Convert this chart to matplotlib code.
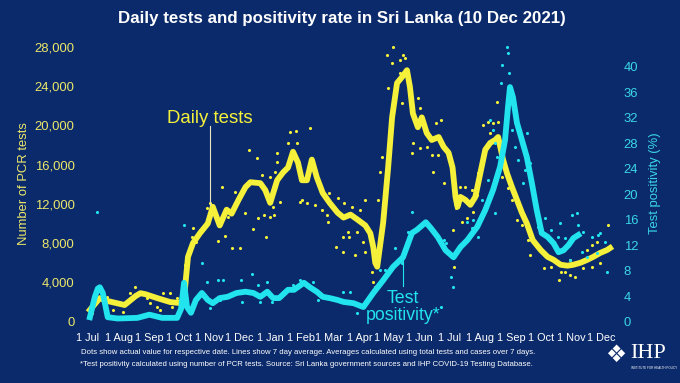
import pandas as pd
import matplotlib
matplotlib.use('Agg')
import matplotlib.pyplot as plt

plt.rcParams['font.family'] = ['Liberation Sans', 'DejaVu Sans']

# x values are days since 1 Jul 2020
start = pd.Timestamp('2020-07-01')

# 7 day average of daily PCR tests
test_avg = [(2, 1200), (12, 2400), (20, 2100), (37, 1700), (48, 2600), (53, 2900), (58, 2800),
            (70, 2400), (83, 2000), (93, 1900), (97, 2300), (99, 4500), (101, 6600), (106, 8000),
            (113, 9000), (121, 10000), (126, 11700), (133, 9800), (140, 11400), (145, 11000),
            (152, 12400), (159, 13700), (164, 14200), (174, 14100), (179, 13400), (184, 12100),
            (191, 14400), (197, 15200), (202, 15700), (207, 17300), (212, 16200), (216, 14400),
            (221, 14400), (226, 16500), (231, 14700), (237, 13100), (244, 12100), (252, 11100),
            (258, 10600), (265, 10900), (272, 10400), (280, 9800), (285, 9000), (288, 7600),
            (290, 6000), (292, 5600), (298, 10100), (303, 15700), (307, 20800), (312, 24300),
            (317, 24900), (322, 25600), (325, 23900), (328, 21200), (333, 19800), (337, 20800),
            (342, 19200), (347, 18500), (354, 18800), (359, 17800), (364, 17200), (368, 15700),
            (371, 12700), (373, 11700), (376, 12700), (381, 12400), (386, 11900), (391, 12700),
            (396, 15100), (401, 17500), (406, 18200), (411, 18500), (414, 18800), (419, 16500),
            (423, 15100), (428, 13700), (433, 12400), (438, 11100), (443, 10000), (449, 8300),
            (457, 7300), (464, 6600), (470, 6300), (477, 5800), (484, 5700), (490, 5800),
            (497, 6000), (504, 6300), (510, 6600), (517, 7000), (524, 7300), (527, 7500)]

# 7 day average of test positivity (%)
pos_avg = [(2, 0.7), (7, 3.9), (10, 5.2), (12, 5.4), (15, 4.5), (17, 3.0), (20, 0.7), (30, 0.5),
           (50, 0.6), (62, 1.1), (75, 0.6), (90, 0.6), (94, 2.0), (97, 6.1), (100, 2.3),
           (104, 1.4), (109, 3.4), (115, 4.5), (121, 3.4), (126, 2.9), (133, 3.7), (141, 3.9),
           (150, 4.5), (159, 4.7), (167, 4.5), (174, 3.9), (181, 4.7), (187, 3.7), (193, 3.7),
           (202, 5.0), (208, 5.0), (218, 6.1), (224, 5.4), (231, 4.7), (237, 3.9), (244, 3.7),
           (252, 3.4), (258, 3.1), (268, 2.9), (273, 2.6), (278, 2.3), (288, 4.5), (298, 6.5),
           (308, 8.6), (318, 10.1), (327, 13.9), (332, 14.4), (341, 15.6), (346, 14.7),
           (353, 13.3), (361, 11.2), (369, 10.1), (376, 11.7), (383, 12.8), (393, 14.9),
           (401, 17.5), (409, 20.7), (416, 24.3), (421, 28.5), (424, 33.7), (426, 36.8),
           (429, 35.2), (433, 31.2), (438, 28.5), (443, 25.8), (448, 21.8), (453, 17.5),
           (458, 13.9), (464, 13.3), (470, 12.3), (475, 10.9), (480, 11.2), (485, 12.0),
           (490, 13.1), (495, 13.6)]

# daily values (dots)
test_dots = [(2, 1500), (4, 900), (25, 1200), (35, 1000), (14, 2200), (19, 2500), (42, 2900),
             (48, 3500), (60, 2400), (63, 1900), (70, 1500), (73, 1200), (76, 2900), (83, 2900),
             (85, 1500), (90, 2400), (98, 5800), (100, 5000), (105, 8600), (106, 9500), (109, 8100),
             (113, 9300), (120, 11600), (123, 12100), (131, 8200), (135, 13700), (138, 8700),
             (140, 11200), (141, 10700), (145, 7500), (148, 13200), (153, 7500), (159, 11100),
             (163, 17500), (167, 9400), (171, 16700), (172, 10600), (176, 14900), (178, 10900),
             (180, 8600), (184, 10700), (184, 14700), (187, 11700), (188, 10900), (189, 15200),
             (191, 17200), (191, 16300), (194, 12200), (202, 18200), (204, 19300), (210, 19400),
             (211, 18200), (214, 12200), (216, 12400), (221, 12100), (224, 19700), (229, 11900),
             (236, 11400), (241, 10900), (242, 10100), (243, 13100), (252, 12600), (250, 7600),
             (257, 7100), (257, 8600), (258, 12100), (262, 9100), (264, 8600), (267, 11700),
             (270, 6800), (272, 9100), (275, 11400), (278, 8100), (280, 12400), (280, 7100),
             (287, 5100), (288, 4000), (290, 3500), (293, 7600), (293, 12400), (295, 15200),
             (297, 16800), (303, 23800), (302, 27200), (307, 26300), (308, 28000), (315, 26600),
             (318, 27200), (320, 26800), (315, 25300), (317, 22300), (327, 17200), (328, 18200),
             (333, 22800), (335, 21800), (335, 17700), (342, 17800), (347, 17000), (348, 15200),
             (351, 20200), (353, 17000), (356, 20500), (359, 14100), (368, 9300), (369, 5600),
             (371, 11600), (376, 13700), (378, 10100), (381, 13700), (383, 10600), (388, 13400),
             (389, 11200), (393, 12900), (394, 15100), (398, 16800), (399, 20000), (404, 20300),
             (406, 19200), (409, 20200), (413, 22400), (414, 20300), (418, 14700), (424, 13600),
             (428, 12400), (433, 10400), (438, 9800), (444, 8300), (446, 6800), (452, 7800),
             (460, 5500), (467, 5600), (467, 6600), (475, 4200), (477, 5100), (482, 5100),
             (487, 4800), (487, 6300), (492, 4500), (495, 6100), (500, 5500), (504, 7300),
             (509, 5600), (509, 7800), (514, 8100), (517, 6000), (520, 7100), (525, 9800)]

pos_dots = [(9, 17.2), (97, 15.2), (115, 9.2), (120, 6.2), (131, 6.5), (136, 6.5), (154, 6.5),
            (166, 7.5), (172, 5.8), (181, 6.2), (156, 3.1), (174, 3.1), (123, 2.2), (133, 3.4),
            (186, 3.1), (197, 4.7), (207, 5.8), (214, 6.5), (227, 6.2), (232, 3.4), (257, 4.7),
            (265, 4.7), (272, 1.4), (295, 8.1), (300, 8.1), (310, 11.6), (317, 9.2), (323, 14.1),
            (327, 17.2), (356, 2.3), (359, 12.8), (361, 12.3), (366, 7.0), (368, 5.4), (383, 15.6),
            (388, 14.7), (389, 16.0), (394, 13.3), (398, 19.1), (403, 18.0), (404, 22.2),
            (406, 31.6), (409, 30.1), (411, 28.0), (411, 17.1), (413, 25.8), (417, 37.4),
            (418, 40.3), (423, 43.1), (424, 42.1), (425, 39.0), (428, 30.1), (431, 27.4),
            (434, 25.4), (436, 30.1), (439, 21.8), (441, 23.8), (443, 29.6), (446, 24.9),
            (450, 19.1), (454, 14.9), (460, 13.9), (461, 16.3), (467, 14.4), (474, 13.3),
            (476, 15.5), (482, 13.1), (487, 9.7), (489, 16.7), (494, 17.1), (495, 15.2),
            (499, 10.9), (500, 14.1), (504, 10.1), (509, 13.3), (514, 10.8), (515, 13.6),
            (517, 13.9), (522, 12.5), (524, 7.8)]

months = pd.date_range('2020-07-01', '2021-12-01', freq='MS')
month_days = [(m - start).days for m in months]
month_labels = ['1 ' + m.strftime('%b') for m in months]

bg = '#0b2a6b'
yellow = '#f5f03a'
cyan = '#22e4ee'
ytick_col = '#ece86a'
ctick_col = '#3ad6e6'

fig = plt.figure(figsize=(6.8, 3.83), dpi=100, facecolor=bg)
ax = fig.add_axes([80 / 680, 1 - 325 / 383, 538 / 680, 283 / 383])
ax.set_facecolor(bg)
ax2 = ax.twinx()

ax.scatter(*zip(*test_dots), s=5, color=yellow, lw=0, zorder=2)
ax.plot(*zip(*test_avg), color=yellow, lw=4.2, solid_joinstyle='round', zorder=3)
ax2.scatter(*zip(*pos_dots), s=5, color=cyan, lw=0, zorder=2)
ax2.plot(*zip(*pos_avg), color=cyan, lw=4.2, solid_joinstyle='round', zorder=3)

ax.set_xlim(-8, 535)
ax.set_ylim(-336, 28474)
ax2.set_ylim(-0.52, 43.87)

ax.set_yticks(range(0, 28001, 4000))
ax.set_yticklabels([f'{v:,}' for v in range(0, 28001, 4000)])
ax2.set_yticks(range(0, 41, 4))
ax.set_xticks(month_days)
ax.set_xticklabels(month_labels)

for a in (ax, ax2):
    for s in a.spines.values():
        s.set_visible(False)
ax.tick_params(axis='y', length=0, pad=4, labelsize=9.4, labelcolor=ytick_col)
ax.tick_params(axis='x', length=0, pad=6, labelsize=7.8, labelcolor='white')
ax2.tick_params(axis='y', length=0, pad=4, labelsize=9.4, labelcolor=ctick_col)

ax.set_ylabel('Number of PCR tests', color=ytick_col, fontsize=9.4, labelpad=3)
ax2.set_ylabel('Test positivity (%)', color=ctick_col, fontsize=9.4, labelpad=8)

# annotations
ax.plot([123, 123], [11900, 19900], color='#e8e8c0', lw=0.8, zorder=4)
ax.text(123, 20230, 'Daily tests', color=yellow, fontsize=13.4, ha='center', va='baseline')
ax2.plot([318, 318], [5.6, 10.1], color=cyan, lw=0.8, zorder=4)
ax2.text(318, 2.9, 'Test', color=cyan, fontsize=12.8, ha='center', va='baseline')
ax2.text(318, 0.3, 'positivity*', color=cyan, fontsize=12.8, ha='center', va='baseline')

fig.text(0.503, 1 - 18 / 383, 'Daily tests and positivity rate in Sri Lanka (10 Dec 2021)',
         color='white', fontsize=12.2, fontweight='bold', ha='center', va='center')

fig.text(81 / 680, 1 - 352 / 383,
         'Dots show actual value for respective date. Lines show 7 day average. '
         'Averages calculated using total tests and cases over 7 days.',
         color='white', fontsize=5.6, va='center')
fig.text(80 / 680, 1 - 364 / 383,
         '*Test positivity calculated using number of PCR tests. Source: Sri Lanka '
         'government sources and IHP COVID-19 Testing Database.',
         color='white', fontsize=5.6, va='center')

# logo
fig.text(616 / 680, 1 - 355 / 383, '\u2756', color='white', fontsize=17,
         ha='center', va='center', family='DejaVu Sans')
fig.text(630 / 680, 1 - 353 / 383, 'IHP', color='white', fontsize=16,
         family='Liberation Serif', va='center')
fig.text(631 / 680, 1 - 368 / 383, 'INSTITUTE FOR HEALTH POLICY', color='white',
         fontsize=2.2, va='center')

fig.savefig('out.png', dpi=100, facecolor=bg)
